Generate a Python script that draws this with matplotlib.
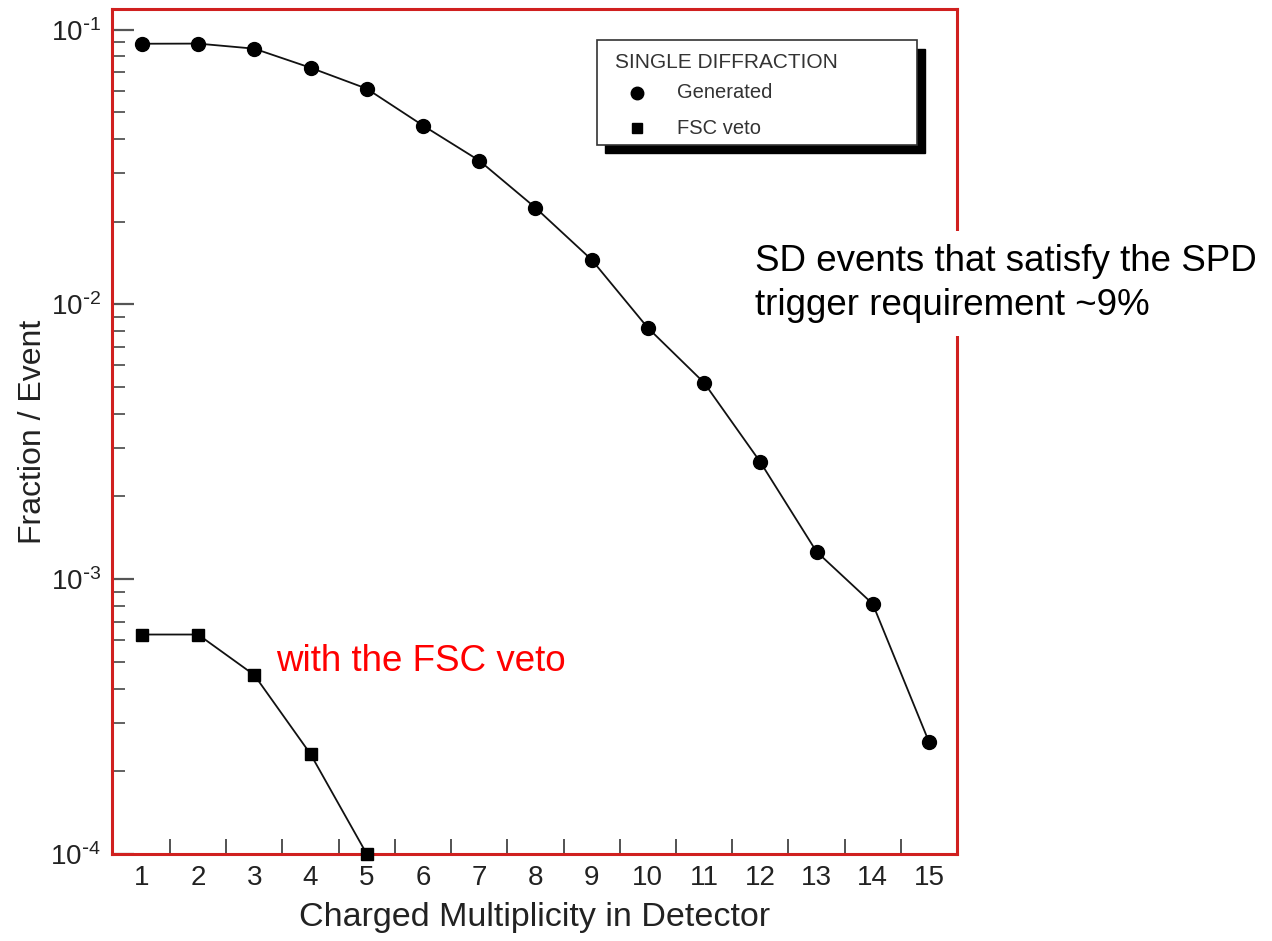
import numpy as np
import matplotlib
matplotlib.use("Agg")
import matplotlib.pyplot as plt
from matplotlib.ticker import LogLocator, NullFormatter, FixedLocator, FuncFormatter
from matplotlib.patches import Rectangle

plt.rcParams['font.family'] = ['Liberation Sans', 'DejaVu Sans']
plt.rcParams['mathtext.default'] = 'regular'

# data
mult = [1, 2, 3, 4, 5, 6, 7, 8, 9, 10, 11, 12, 13, 14, 15]
generated = [0.0889, 0.0890, 0.0853, 0.0727, 0.0610, 0.0448, 0.0334, 0.0225,
             0.01455, 0.00822, 0.00519, 0.00267, 0.00126, 0.000813, 0.000256]
fsc_mult = [1, 2, 3, 4, 5]
fsc_veto = [0.000629, 0.000629, 0.000448, 0.000231, 0.000100]

fig = plt.figure(figsize=(12.72, 9.41), dpi=100)
ax = fig.add_axes([0.0881, 0.0925, 0.6643, 0.898])

ax.plot(mult, generated, color='#111111', lw=1.3, marker='o', ms=10,
        markerfacecolor='black', markeredgecolor='black', zorder=3)
ax.plot(fsc_mult, fsc_veto, color='#111111', lw=1.3, marker='s', ms=8.5,
        markerfacecolor='black', markeredgecolor='black', zorder=3, clip_on=False)

ax.set_yscale('log')
ax.set_xlim(0.47, 15.5)
ax.set_ylim(1e-4, 0.119)

# x axis: labels at integers, ticks at bin edges
ax.set_xticks(mult)
ax.xaxis.set_minor_locator(FixedLocator(np.arange(1.5, 15.0, 1.0)))
ax.tick_params(axis='x', which='major', length=0, pad=8, labelsize=20,
               labelcolor='#222222')
ax.tick_params(axis='x', which='minor', direction='in', length=11, width=1.3,
               color='#444444')

# y axis
def pow_label(v, pos):
    e = int(round(np.log10(v)))
    return r'$10^{\text{-}%d}$' % abs(e) if e < 0 else r'$10^{%d}$' % e

ax.yaxis.set_major_locator(LogLocator(base=10, numticks=10))
ax.yaxis.set_major_formatter(FuncFormatter(pow_label))
ax.yaxis.set_minor_locator(LogLocator(base=10, subs=np.arange(2, 10), numticks=20))
ax.yaxis.set_minor_formatter(NullFormatter())
ax.tick_params(axis='y', which='major', direction='in', length=16, width=1.6,
               color='#555555', pad=8, labelsize=20, labelcolor='#222222')
ax.tick_params(axis='y', which='minor', direction='in', length=9, width=1.3,
               color='#555555')

for s in ax.spines.values():
    s.set_color('#d0201f')
    s.set_linewidth(2.2)

ax.set_xlabel('Charged Multiplicity in Detector', fontsize=24.5, color='#222222',
              labelpad=8)
ax.set_ylabel('Fraction / Event', fontsize=23, color='#222222', labelpad=2)

# legend box with hard shadow
lx, ly, lw_, lh = 0.574, 0.839, 0.379, 0.124
ax.add_patch(Rectangle((lx + 0.009, ly - 0.010), lw_, lh, transform=ax.transAxes,
                       facecolor='black', edgecolor='black', zorder=4))
ax.add_patch(Rectangle((lx, ly), lw_, lh, transform=ax.transAxes,
                       facecolor='white', edgecolor='#333333', lw=1.2, zorder=5))
ax.text(0.595, 0.937, 'SINGLE DIFFRACTION', transform=ax.transAxes, fontsize=15,
        color='#333333', va='center', ha='left', zorder=6)
ax.plot([0.621], [0.9006], 'o', color='black', ms=9, transform=ax.transAxes,
        zorder=6, clip_on=False)
ax.plot([0.621], [0.859], 's', color='black', ms=7.5, transform=ax.transAxes,
        zorder=6, clip_on=False)
ax.text(0.669, 0.9006, 'Generated', transform=ax.transAxes, fontsize=14.5,
        color='#333333', va='center', ha='left', zorder=6)
ax.text(0.669, 0.859, 'FSC veto', transform=ax.transAxes, fontsize=14.5,
        color='#333333', va='center', ha='left', zorder=6)

# annotations
fig.text(0.5936, 0.6985, 'SD events that satisfy the SPD\ntrigger requirement ~9%',
         fontsize=26.5, color='black', ha='left', va='center', linespacing=1.35,
         bbox=dict(boxstyle='square,pad=0.35', facecolor='white', edgecolor='none'))
fig.text(0.217, 0.2975, 'with the FSC veto', fontsize=26.5, color='#ff0000',
         ha='left', va='center')

fig.savefig('out.png', dpi=100)
